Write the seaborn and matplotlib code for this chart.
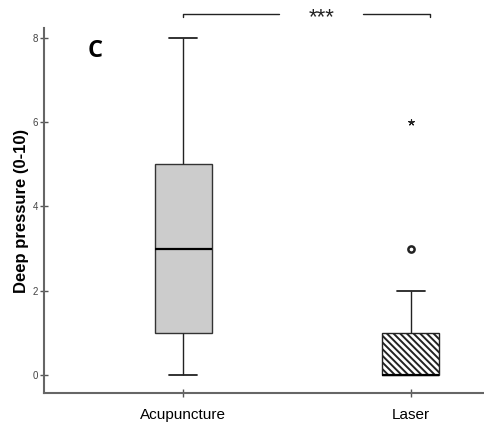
import matplotlib
matplotlib.use("Agg")
import matplotlib.pyplot as plt
import seaborn as sns
import pandas as pd

# Data (raw values chosen to reproduce the box statistics)
categories = ["Acupuncture", "Laser"]
acupuncture_values = [0, 1, 1, 2, 3, 4, 5, 6, 8]
laser_values = [0, 0, 0, 0, 0, 0, 0, 1, 1, 1, 2, 3, 6]
laser_outliers = [3]      # circle (mild outlier)
laser_extremes = [6]      # star (extreme value)
y_ticks = [0, 2, 4, 6, 8]
y_label = "Deep pressure (0-10)"
panel_label = "C"
significance = "***"

df = pd.DataFrame({
    "group": [categories[0]] * len(acupuncture_values) + [categories[1]] * len(laser_values),
    "value": acupuncture_values + laser_values,
})

sns.set_style("white")
plt.rcParams["font.family"] = ["Liberation Sans", "DejaVu Sans"]
plt.rcParams["hatch.linewidth"] = 1.4
plt.rcParams["text.color"] = "black"

fig = plt.figure(figsize=(4.85, 4.25), dpi=100)
ax = fig.add_axes([0.0907, 0.0753, 0.9093, 0.859])

sns.boxplot(data=df, x="group", y="value", order=categories, ax=ax,
            width=0.25, showfliers=False, whis=1.5,
            palette=["#cccccc", "white"], hue="group", legend=False,
            linewidth=1.0, linecolor="#333333",
            medianprops=dict(color="black", linewidth=1.6),
            whiskerprops=dict(color="#222222", linewidth=1.0),
            capprops=dict(color="#222222", linewidth=1.3))

# hatch the laser box
patches = [p for p in ax.patches]
if len(patches) >= 2:
    patches[1].set_hatch("\\\\\\\\\\")
    patches[1].set_edgecolor("#222222")

# outliers
sns.scatterplot(x=[categories[1]] * len(laser_outliers), y=laser_outliers, ax=ax,
                marker="o", s=20, facecolor="white", edgecolor="#222222", linewidth=1.8, zorder=5)
sns.scatterplot(x=[categories[1]] * len(laser_extremes), y=laser_extremes, ax=ax,
                marker=(5, 2, 0), s=18, color="#222222", linewidth=0.8, zorder=5)

ax.set_xlim(-0.61, 1.325)
ax.set_ylim(-0.427, 8.237)
ax.set_yticks(y_ticks)
ax.set_yticklabels([str(t) for t in y_ticks], fontsize=7, color="#444444")
ax.tick_params(axis="y", direction="inout", length=6, width=1.0, color="#555555", pad=1, left=True)
ax.tick_params(axis="x", direction="inout", length=6, width=1.0, color="#555555", pad=8, bottom=True,
               labelsize=11, labelcolor="black")
for s in ["top", "right"]:
    ax.spines[s].set_visible(False)
for s in ["left", "bottom"]:
    ax.spines[s].set_color("#666666")
    ax.spines[s].set_linewidth(1.5)

ax.set_xlabel("")
ax.set_ylabel(y_label, fontsize=12, fontweight="bold", labelpad=3, color="black")

ax.text(0.115, 0.937, panel_label, transform=ax.transAxes, fontsize=17, fontweight="bold",
        family=["Open Sans", "DejaVu Sans"], ha="center", va="center", color="black")

# significance bracket
yb = 8.57
ax.plot([0.0, 0.0, 0.42], [yb - 0.08, yb, yb], color="#222222", lw=1.0, clip_on=False)
ax.plot([0.79, 1.083, 1.083], [yb, yb, yb - 0.08], color="#222222", lw=1.0, clip_on=False)
ax.text(0.61, yb - 0.08, significance, ha="center", va="center", fontsize=16, clip_on=False, color="#222222")

fig.savefig("out.png", dpi=100)
